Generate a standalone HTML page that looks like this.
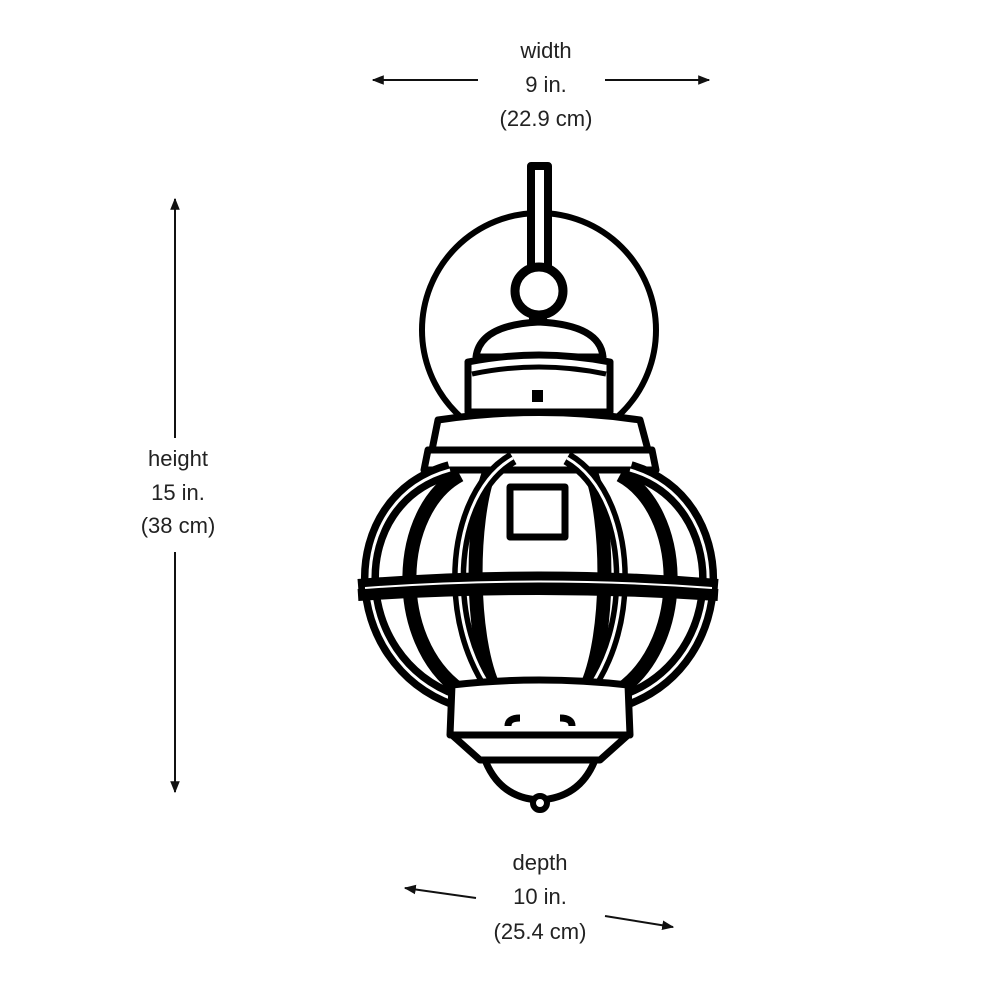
<!DOCTYPE html>
<html><head><style>
html,body{margin:0;padding:0;background:#fff;}
svg{display:block;}
text{font-family:"Liberation Sans",sans-serif;font-size:22px;fill:#222;text-anchor:middle;}
</style></head><body>
<svg width="1000" height="1000" viewBox="0 0 1000 1000" xmlns="http://www.w3.org/2000/svg">
<defs>
<marker id="ah" viewBox="0 0 10 10" refX="9" refY="5" markerWidth="6" markerHeight="6" orient="auto-start-reverse">
<path d="M0,1 L10,5 L0,9 z" fill="#111"/></marker>
</defs>
<text x="546" y="58">width</text>
<text x="546" y="92">9 in.</text>
<text x="546" y="126">(22.9 cm)</text>
<text x="178" y="466">height</text>
<text x="178" y="500">15 in.</text>
<text x="178" y="533">(38 cm)</text>
<text x="540" y="870">depth</text>
<text x="540" y="904">10 in.</text>
<text x="540" y="939">(25.4 cm)</text>
<g stroke="#111" stroke-width="2" fill="none">
<line x1="478" y1="80" x2="373" y2="80" marker-end="url(#ah)"/>
<line x1="605" y1="80" x2="709" y2="80" marker-end="url(#ah)"/>
<line x1="175" y1="438" x2="175" y2="199" marker-end="url(#ah)"/>
<line x1="175" y1="552" x2="175" y2="792" marker-end="url(#ah)"/>
<line x1="476" y1="898" x2="405" y2="888" marker-end="url(#ah)"/>
<line x1="605" y1="916" x2="673" y2="927" marker-end="url(#ah)"/>
</g>
<g stroke="#000" fill="#fff" stroke-linejoin="round">
<circle cx="539" cy="330" r="117" stroke-width="6" fill="none"/>
<rect x="531" y="166" width="17" height="110" stroke-width="8"/>
<rect x="532" y="305" width="12" height="22" stroke-width="6"/>
<circle cx="539" cy="291" r="24" stroke-width="9"/>
<path d="M476,357 Q480,325 539,322 Q600,325 603,357 Z" stroke-width="7"/>
<path d="M468,362 Q539,348 610,362 L610,412 L468,412 Z" stroke-width="7"/>
<path d="M472,374 Q539,360 606,374" stroke-width="5" fill="none"/>
<rect x="532" y="390" width="11" height="12" fill="#000" stroke="none"/>
<path d="M438,420 Q539,405 640,420 L648,450 L432,450 Z" stroke-width="7"/>
<path d="M428,450 L652,450 L656,470 L424,470 Z" stroke-width="7"/>
<g fill="none">
<path d="M450,470 C340,500 345,660 455,700" stroke-width="18"/>
<path d="M450,470 C340,500 345,660 455,700" stroke="#fff" stroke-width="3"/>
<path d="M630,470 C735,500 735,660 625,700" stroke-width="18"/>
<path d="M630,470 C735,500 735,660 625,700" stroke="#fff" stroke-width="3"/>
<path d="M460,475 C395,510 390,640 460,690" stroke-width="14"/>
<path d="M620,475 C685,510 690,640 620,690" stroke-width="14"/>
<path d="M490,470 C470,520 470,640 495,690" stroke-width="14"/>
<path d="M590,470 C610,520 610,640 585,690" stroke-width="14"/>
<path d="M513,458 C440,500 440,660 520,718" stroke-width="14"/>
<path d="M513,458 C440,500 440,660 520,718" stroke="#fff" stroke-width="3"/>
<path d="M567,458 C640,500 640,660 560,718" stroke-width="14"/>
<path d="M567,458 C640,500 640,660 560,718" stroke="#fff" stroke-width="3"/>
<path d="M358,585 Q539,570 718,585" stroke-width="12"/>
<path d="M358,595 Q539,583 718,595" stroke-width="12"/>
<path d="M365,588 Q539,575 712,588" stroke="#fff" stroke-width="2"/>
</g>
<rect x="510" y="487" width="55" height="50" stroke-width="7"/>
<path d="M452,685 Q539,675 628,685 L630,735 L450,735 Z" stroke-width="7"/>
<path d="M520,718 q-12,0 -12,8" fill="none" stroke-width="7"/>
<path d="M560,718 q12,0 12,8" fill="none" stroke-width="7"/>
<path d="M452,735 L628,735 L600,760 L480,760 Z" stroke-width="7"/>
<path d="M485,760 L595,760 Q580,798 539,800 Q500,798 485,760 Z" stroke-width="7"/>
<circle cx="540" cy="803" r="7" stroke-width="6"/>
</g>
</svg>
</body></html>
